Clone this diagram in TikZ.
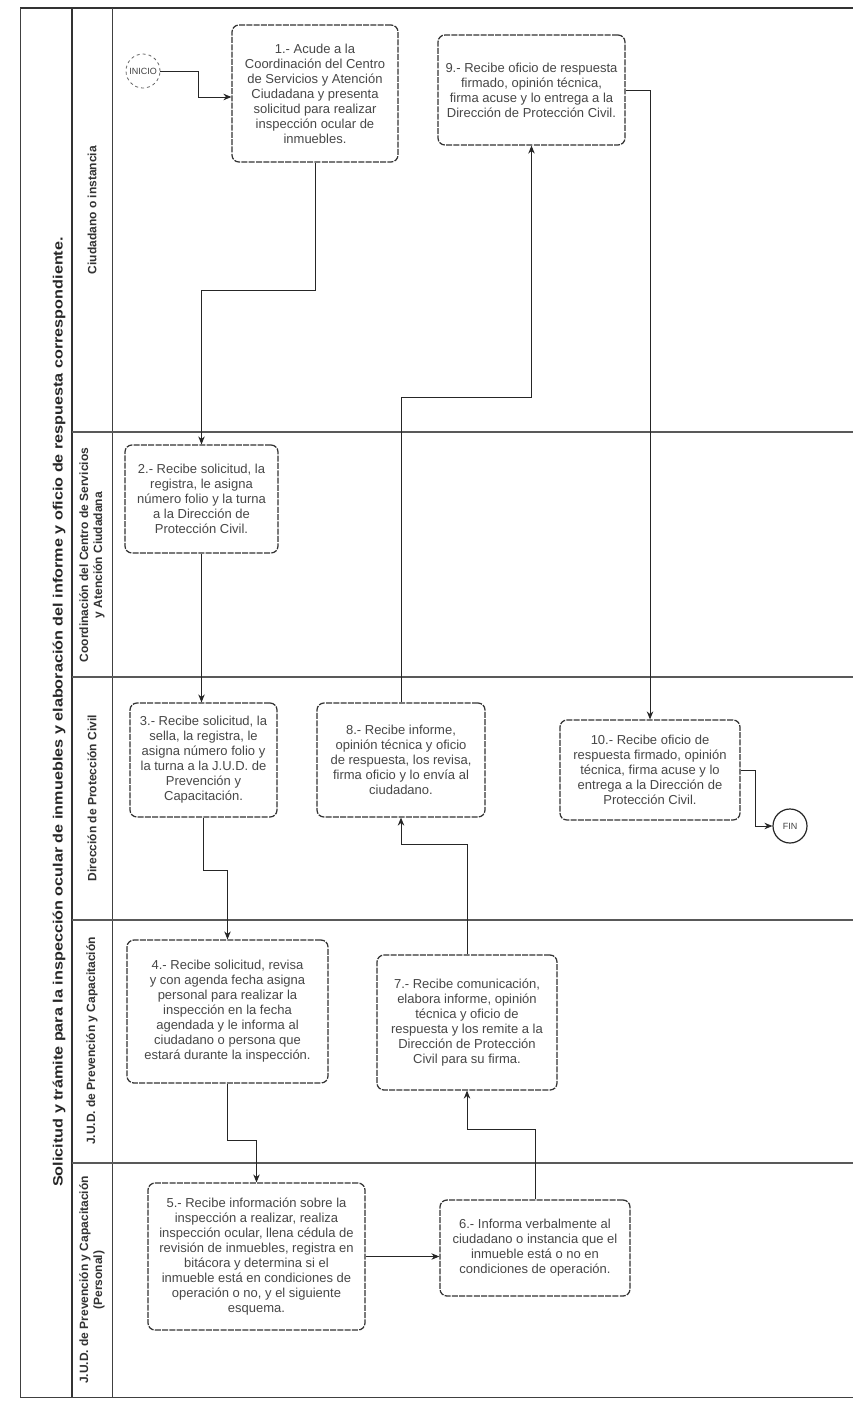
\documentclass[tikz,border=0pt]{standalone}
\usepackage{fontspec}
\setmainfont{Liberation Sans}
\usetikzlibrary{arrows.meta}

\begin{document}
\begin{tikzpicture}[x=1pt,y=-1pt,
  stepbox/.style={draw=black!80, line width=1.25pt, dash pattern=on 6pt off 1.3pt,
    rounded corners=7pt, fill=white, align=center, text=black!72,
    font=\fontsize{13}{15}\selectfont, inner sep=2pt},
  conn/.style={draw=black!85, line width=0.9pt, -{Stealth[length=8pt,width=6.5pt]}},
  frameline/.style={draw=black!75, line width=1pt},
  heavyline/.style={draw=black!80, line width=1.8pt},
  laneline/.style={draw=black!65, line width=1.3pt},
  lanelabel/.style={rotate=90, align=center, text=black!80,
    font=\fontsize{12}{14}\selectfont\bfseries},
  terminal/.style={circle, minimum size=34pt, inner sep=0pt, text=black!75,
    font=\fontsize{9}{10}\selectfont},
]
\useasboundingbox (0,0) rectangle (853,1403);
\fill[white] (0,0) rectangle (853,1403);

% outer frame and header columns
\draw[heavyline] (20,8) -- (853,8);
\draw[frameline] (20,1397) -- (853,1397);
\draw[frameline] (20,8) -- (20,1397);
\draw[heavyline] (72,8) -- (72,1397);
\draw[frameline] (112,8) -- (112,1397);

% lane dividers
\draw[laneline] (72,432) -- (853,432);
\draw[laneline] (72,677) -- (853,677);
\draw[laneline] (72,920) -- (853,920);
\draw[laneline] (72,1163) -- (853,1163);

% title
\node[rotate=90, text=black!85, font=\fontsize{13.5}{16}\selectfont\bfseries] (title) at (59,712)
  {\scalebox{1.2}[1]{Solicitud y trámite para la inspección ocular de inmuebles y elaboración del informe y oficio de respuesta correspondiente.}};

% lane labels
\node[lanelabel] (l1) at (92,210) {Ciudadano o instancia};
\node[lanelabel] (l2) at (92,555) {Coordinación del Centro de Servicios\\y Atención Ciudadana};
\node[lanelabel] (l3) at (92,798) {Dirección de Protección Civil};
\node[lanelabel] (l4) at (92,1041) {J.U.D. de Prevención y Capacitación};
\node[lanelabel] (l5) at (92,1280) {J.U.D. de Prevención y Capacitación\\(Personal)};

% terminals
\node[terminal, draw=black!60, dashed, line width=0.8pt] (start) at (143,71) {INICIO};
\node[terminal, draw=black!85, line width=1.2pt] (fin) at (790,826) {FIN};

% process steps
\node[stepbox, minimum width=166pt, minimum height=137pt] (b1) at (315,93.5)
  {1.- Acude a la\\Coordinación del Centro\\de Servicios y Atención\\Ciudadana y presenta\\solicitud para realizar\\inspección ocular de\\inmuebles.};
\node[stepbox, minimum width=187pt, minimum height=110pt] (b9) at (531.5,90)
  {9.- Recibe oficio de respuesta\\firmado, opinión técnica,\\firma acuse y lo entrega a la\\Dirección de Protección Civil.};
\node[stepbox, minimum width=153pt, minimum height=108pt] (b2) at (201.5,499)
  {2.- Recibe solicitud, la\\registra, le asigna\\número folio y la turna\\a la Dirección de\\Protección Civil.};
\node[stepbox, minimum width=147pt, minimum height=114pt] (b3) at (203.5,760)
  {3.- Recibe solicitud, la\\sella, la registra, le\\asigna número folio y\\la turna a la J.U.D. de\\Prevención y\\Capacitación.};
\node[stepbox, minimum width=168pt, minimum height=114pt] (b8) at (401,760)
  {8.- Recibe informe,\\opinión técnica y oficio\\de respuesta, los revisa,\\firma oficio y lo envía al\\ciudadano.};
\node[stepbox, minimum width=180pt, minimum height=100pt] (b10) at (650,770)
  {10.- Recibe oficio de\\respuesta firmado, opinión\\técnica, firma acuse y lo\\entrega a la Dirección de\\Protección Civil.};
\node[stepbox, minimum width=201pt, minimum height=143pt] (b4) at (227.5,1011.5)
  {4.- Recibe solicitud, revisa\\y con agenda fecha asigna\\personal para realizar la\\inspección en la fecha\\agendada y le informa al\\ciudadano o persona que\\estará durante la inspección.};
\node[stepbox, minimum width=180pt, minimum height=135pt] (b7) at (467,1022.5)
  {7.- Recibe comunicación,\\elabora informe, opinión\\técnica y oficio de\\respuesta y los remite a la\\Dirección de Protección\\Civil para su firma.};
\node[stepbox, minimum width=217pt, minimum height=147pt] (b5) at (256.5,1256.5)
  {5.- Recibe información sobre la\\inspección a realizar, realiza\\inspección ocular, llena cédula de\\revisión de inmuebles, registra en\\bitácora y determina si el\\inmueble está en condiciones de\\operación o no, y el siguiente\\esquema.};
\node[stepbox, minimum width=190pt, minimum height=96pt] (b6) at (535,1248)
  {6.- Informa verbalmente al\\ciudadano o instancia que el\\inmueble está o no en\\condiciones de operación.};

% flow
\draw[conn] (start.east) -- (198,71) -- (198,97) -- (b1.west |- 198,97);
\draw[conn] (b1.south) -- ++(0,128) -| (b2.north);
\draw[conn] (b2.south) -- (b2.south |- b3.north);
\draw[conn] (b3.south) -- ++(0,53) -| (b4.north);
\draw[conn] (b4.south) -- ++(0,57) -| (b5.north);
\draw[conn] (b5.east) -- (b5.east -| b6.west);
\draw[conn] (b6.north) -- ++(0,-70) -| (b7.south);
\draw[conn] (b7.north) -- ++(0,-110) -| (b8.south);
\draw[conn] (b8.north) -- ++(0,-305) -| (b9.south);
\draw[conn] (b9.east) -| (b10.north);
\draw[conn] (b10.east) -- ++(15,0) |- (fin.west);
\end{tikzpicture}
\end{document}
